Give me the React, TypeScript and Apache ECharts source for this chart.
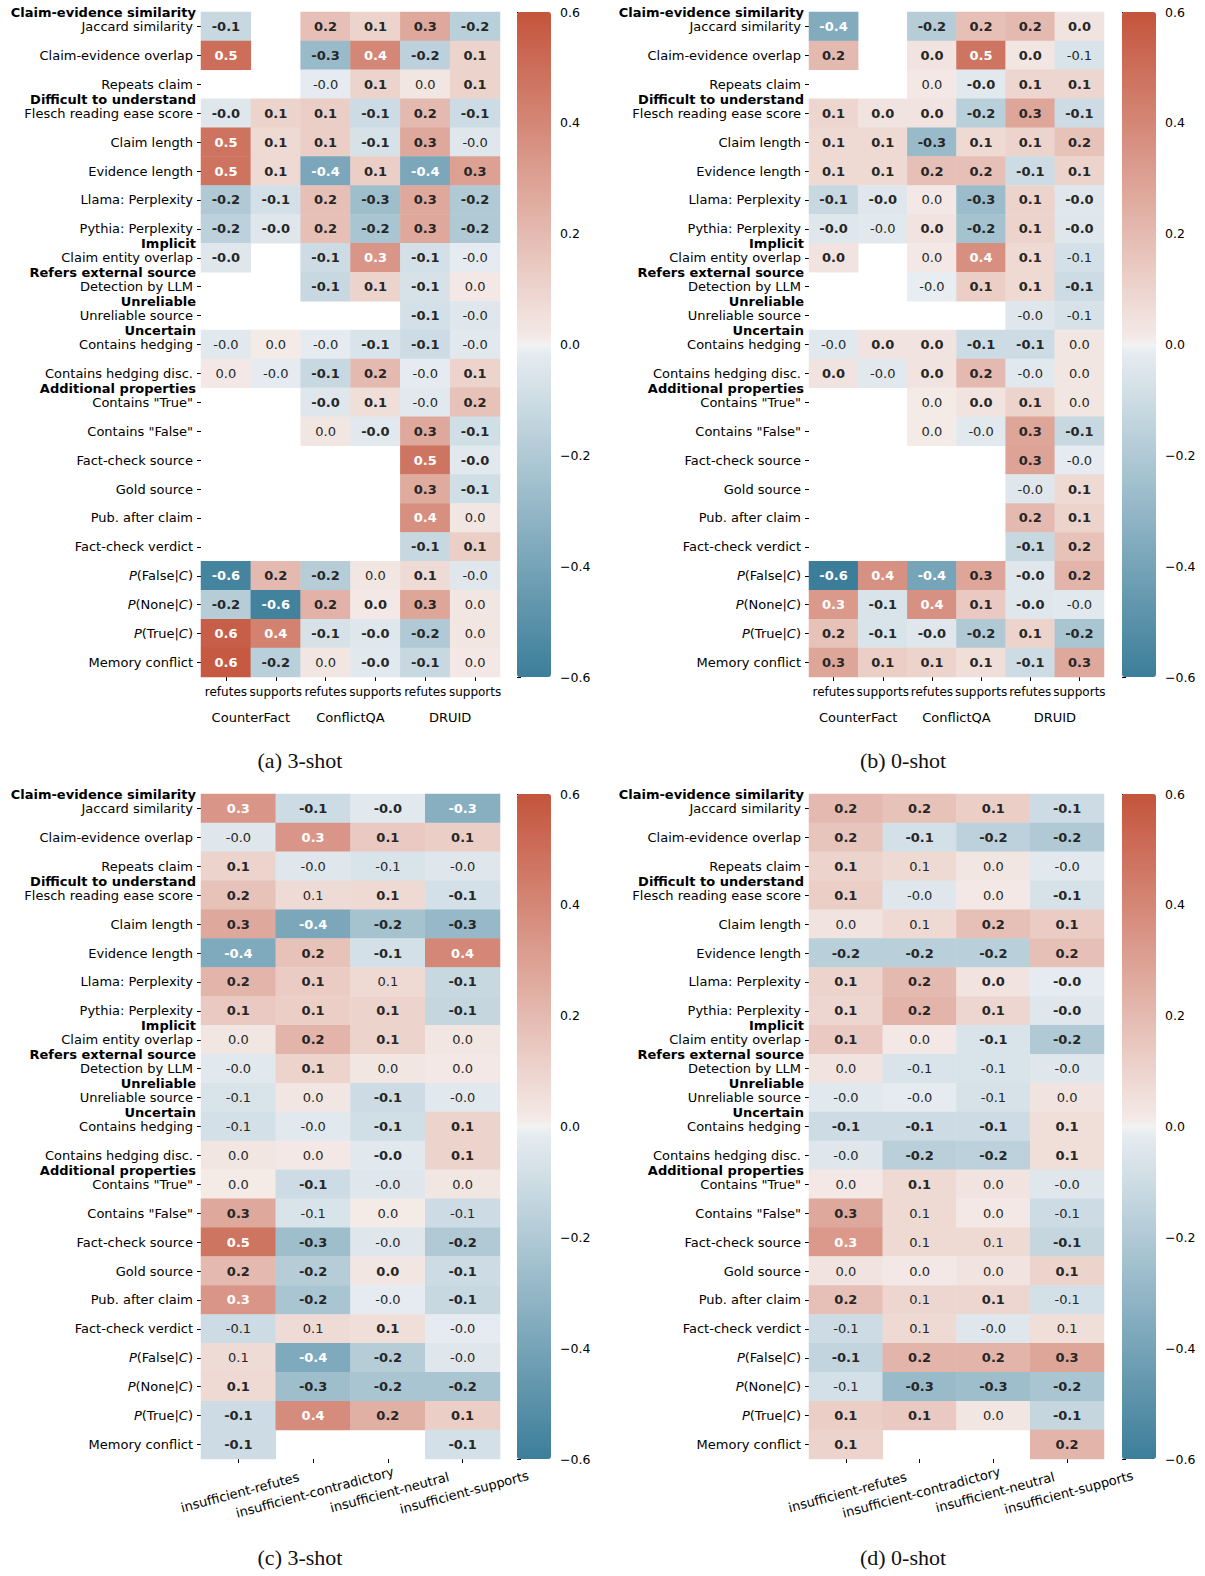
import React, { useEffect, useRef } from "react";
import * as echarts from "echarts";

// ---------------- data ----------------
const ROW_LABELS = [
  "Jaccard similarity", "Claim-evidence overlap", "Repeats claim", "Flesch reading ease score",
  "Claim length", "Evidence length", "Llama: Perplexity", "Pythia: Perplexity",
  "Claim entity overlap", "Detection by LLM", "Unreliable source", "Contains hedging",
  "Contains hedging disc.", 'Contains "True"', 'Contains "False"', "Fact-check source",
  "Gold source", "Pub. after claim", "Fact-check verdict", "P(False|C)", "P(None|C)",
  "P(True|C)", "Memory conflict",
];
const ROW_GROUPS = [
  "Claim-evidence similarity", "", "", "Difficult to understand", "", "", "", "",
  "Implicit", "Refers external source", "Unreliable", "Uncertain", "", "Additional properties",
  "", "", "", "", "", "", "", "", "",
];
const COLS_TOP = ["refutes", "supports", "refutes", "supports", "refutes", "supports"];
const DATASETS = ["CounterFact", "ConflictQA", "DRUID"];
const COLS_BOTTOM = ["insufficient-refutes", "insufficient-contradictory", "insufficient-neutral", "insufficient-supports"];
const CBAR_MIN = -0.6;
const CBAR_MAX = 0.6;
const CBAR_STEP = 0.2;
const CAPTIONS = ["(a) 3-shot", "(b) 0-shot", "(c) 3-shot", "(d) 0-shot"];

const A_VALUES = [
  [-0.12, null, 0.18, 0.1, 0.27, -0.17],
  [0.5, null, -0.28, 0.4, -0.16, 0.1],
  [null, null, -0.02, 0.1, 0.03, 0.1],
  [-0.04, 0.1, 0.12, -0.1, 0.2, -0.1],
  [0.48, 0.08, 0.12, -0.07, 0.27, -0.04],
  [0.48, 0.08, -0.38, 0.12, -0.38, 0.3],
  [-0.2, -0.08, 0.18, -0.26, 0.27, -0.2],
  [-0.16, -0.04, 0.18, -0.22, 0.27, -0.2],
  [-0.04, null, -0.1, 0.34, -0.08, -0.02],
  [null, null, -0.12, 0.1, -0.07, 0.02],
  [null, null, null, null, -0.08, -0.04],
  [-0.03, 0.01, -0.02, -0.06, -0.1, -0.03],
  [0.02, -0.02, -0.12, 0.2, -0.02, 0.1],
  [null, null, -0.04, 0.06, -0.03, 0.17],
  [null, null, 0.03, -0.03, 0.27, -0.09],
  [null, null, null, null, 0.47, -0.03],
  [null, null, null, null, 0.26, -0.09],
  [null, null, null, null, 0.37, 0.03],
  [null, null, null, null, -0.12, 0.12],
  [-0.57, 0.2, -0.18, 0.03, 0.07, -0.04],
  [-0.18, -0.58, 0.23, 0.02, 0.28, 0.03],
  [0.56, 0.42, -0.07, -0.04, -0.2, 0.03],
  [0.58, -0.17, 0.03, -0.03, -0.12, 0.02],
];
const A_BOLD = [
  [1, 0, 1, 1, 1, 1], [1, 0, 1, 1, 1, 1], [0, 0, 0, 1, 0, 1], [1, 1, 1, 1, 1, 1],
  [1, 1, 1, 1, 1, 0], [1, 1, 1, 1, 1, 1], [1, 1, 1, 1, 1, 1], [1, 1, 1, 1, 1, 1],
  [1, 0, 1, 1, 1, 0], [0, 0, 1, 1, 1, 0], [0, 0, 0, 0, 1, 0], [0, 0, 0, 1, 1, 0],
  [0, 0, 1, 1, 0, 1], [0, 0, 1, 1, 0, 1], [0, 0, 0, 1, 1, 1], [0, 0, 0, 0, 1, 1],
  [0, 0, 0, 0, 1, 1], [0, 0, 0, 0, 1, 0], [0, 0, 0, 0, 1, 1], [1, 1, 1, 0, 1, 0],
  [1, 1, 1, 1, 1, 0], [1, 1, 1, 1, 1, 0], [1, 1, 0, 1, 1, 0],
];

const B_VALUES = [
  [-0.36, null, -0.18, 0.18, 0.2, 0.04],
  [0.2, null, 0.04, 0.47, 0.03, -0.06],
  [null, null, 0.02, -0.03, 0.09, 0.09],
  [0.09, 0.04, 0.04, -0.17, 0.28, -0.1],
  [0.08, 0.08, -0.28, 0.08, 0.1, 0.17],
  [0.08, 0.08, 0.18, 0.18, -0.1, 0.1],
  [-0.12, -0.04, 0.02, -0.27, 0.1, -0.04],
  [-0.04, -0.03, 0.04, -0.24, 0.1, -0.04],
  [0.04, null, 0.02, 0.37, 0.08, -0.08],
  [null, null, -0.01, 0.12, 0.08, -0.1],
  [null, null, null, null, -0.04, -0.07],
  [-0.03, 0.04, 0.04, -0.1, -0.1, 0.03],
  [0.04, -0.03, 0.04, 0.2, -0.03, 0.03],
  [null, null, 0.01, 0.04, 0.1, 0.03],
  [null, null, 0.01, -0.03, 0.28, -0.12],
  [null, null, null, null, 0.29, -0.02],
  [null, null, null, null, -0.04, 0.08],
  [null, null, null, null, 0.2, 0.1],
  [null, null, null, null, -0.12, 0.17],
  [-0.6, 0.36, -0.4, 0.28, -0.04, 0.22],
  [0.33, -0.06, 0.36, 0.14, -0.04, -0.03],
  [0.17, -0.06, -0.04, -0.2, 0.1, -0.22],
  [0.28, 0.12, 0.1, 0.06, -0.1, 0.27],
];
const B_BOLD = [
  [1, 0, 1, 1, 1, 1], [1, 0, 1, 1, 1, 0], [0, 0, 0, 1, 1, 1], [1, 1, 1, 1, 1, 1],
  [1, 1, 1, 1, 1, 1], [1, 1, 1, 1, 1, 1], [1, 1, 0, 1, 1, 1], [1, 0, 1, 1, 1, 1],
  [1, 0, 0, 1, 1, 0], [0, 0, 0, 1, 1, 1], [0, 0, 0, 0, 0, 0], [0, 1, 1, 1, 1, 0],
  [1, 0, 1, 1, 0, 0], [0, 0, 0, 1, 1, 0], [0, 0, 0, 0, 1, 1], [0, 0, 0, 0, 1, 0],
  [0, 0, 0, 0, 0, 1], [0, 0, 0, 0, 1, 1], [0, 0, 0, 0, 1, 1], [1, 1, 1, 1, 1, 1],
  [1, 1, 1, 1, 1, 0], [1, 1, 1, 1, 1, 1], [1, 1, 1, 1, 1, 1],
];

const C_VALUES = [
  [0.34, -0.1, -0.03, -0.34],
  [-0.04, 0.34, 0.14, 0.12],
  [0.1, -0.04, -0.06, -0.04],
  [0.17, 0.07, 0.08, -0.08],
  [0.27, -0.38, -0.24, -0.29],
  [-0.37, 0.17, -0.08, 0.4],
  [0.22, 0.13, 0.08, -0.12],
  [0.14, 0.12, 0.1, -0.13],
  [0.03, 0.22, 0.1, 0.03],
  [-0.03, 0.1, 0.03, 0.02],
  [-0.06, 0.03, -0.1, -0.03],
  [-0.08, -0.03, -0.09, 0.1],
  [0.03, 0.02, -0.03, 0.1],
  [0.01, -0.1, -0.04, 0.03],
  [0.27, -0.06, 0.01, -0.1],
  [0.47, -0.26, -0.04, -0.2],
  [0.2, -0.18, 0.03, -0.1],
  [0.34, -0.22, -0.02, -0.12],
  [-0.1, 0.07, 0.06, -0.02],
  [0.07, -0.37, -0.18, -0.04],
  [0.08, -0.26, -0.22, -0.22],
  [-0.1, 0.38, 0.24, 0.12],
  [-0.1, null, null, -0.08],
];
const C_BOLD = [
  [1, 1, 1, 1], [0, 1, 1, 1], [1, 0, 0, 0], [1, 0, 1, 1], [1, 1, 1, 1], [1, 1, 1, 1],
  [1, 1, 0, 1], [1, 1, 1, 1], [0, 1, 1, 0], [0, 1, 0, 0], [0, 0, 1, 0], [0, 0, 1, 1],
  [0, 0, 1, 1], [0, 1, 0, 0], [1, 0, 0, 0], [1, 1, 0, 1], [1, 1, 1, 1], [1, 1, 0, 1],
  [0, 0, 1, 0], [0, 1, 1, 0], [1, 1, 1, 1], [1, 1, 1, 1], [1, 0, 0, 1],
];

const D_VALUES = [
  [0.2, 0.17, 0.12, -0.1],
  [0.16, -0.08, -0.16, -0.2],
  [0.1, 0.08, 0.03, -0.03],
  [0.12, -0.04, 0.02, -0.07],
  [0.04, 0.08, 0.18, 0.13],
  [-0.17, -0.17, -0.17, 0.18],
  [0.1, 0.2, 0.04, -0.02],
  [0.09, 0.22, 0.09, -0.04],
  [0.14, 0.02, -0.06, -0.2],
  [0.04, -0.06, -0.06, -0.04],
  [-0.03, -0.02, -0.07, 0.04],
  [-0.1, -0.1, -0.1, 0.06],
  [-0.04, -0.17, -0.16, 0.06],
  [0.02, 0.08, 0.04, -0.04],
  [0.27, 0.08, 0.02, -0.1],
  [0.33, 0.08, 0.08, -0.13],
  [0.04, 0.02, 0.04, 0.1],
  [0.18, 0.09, 0.09, -0.08],
  [-0.1, 0.08, -0.04, 0.06],
  [-0.14, 0.22, 0.22, 0.28],
  [-0.08, -0.28, -0.26, -0.22],
  [0.12, 0.14, 0.03, -0.13],
  [0.1, null, null, 0.22],
];
const D_BOLD = [
  [1, 1, 1, 1], [1, 1, 1, 1], [1, 0, 0, 0], [1, 0, 0, 1], [0, 0, 1, 1], [1, 1, 1, 1],
  [1, 1, 1, 1], [1, 1, 1, 1], [1, 0, 1, 1], [0, 0, 0, 0], [0, 0, 0, 0], [1, 1, 1, 1],
  [0, 1, 1, 1], [0, 1, 0, 0], [1, 0, 0, 0], [1, 0, 0, 1], [0, 0, 0, 1], [1, 0, 1, 0],
  [0, 0, 0, 0], [1, 1, 1, 1], [0, 1, 1, 1], [1, 1, 0, 1], [1, 0, 0, 1],
];

// ---------------- style ----------------
const FONT = "DejaVu Sans";
const STOPS: [number, number[]][] = [
  [-0.6, [60, 126, 154]],
  [-0.0047, [233, 238, 242]],
  [0, [242, 242, 242]],
  [0.0047, [244, 236, 233]],
  [0.6, [196, 84, 60]],
];
function cmap(v: number): number[] {
  const x = Math.max(CBAR_MIN, Math.min(CBAR_MAX, v));
  for (let i = 0; i < STOPS.length - 1; i++) {
    const [a, ca] = STOPS[i];
    const [b, cb] = STOPS[i + 1];
    if (x <= b) {
      const t = (x - a) / (b - a);
      return ca.map((c, k) => c + (cb[k] - c) * t);
    }
  }
  return STOPS[STOPS.length - 1][1];
}
function toHex(c: number[]) {
  return "#" + c.map((x) => Math.round(x).toString(16).padStart(2, "0")).join("");
}
function luminance(c: number[]) {
  const lin = c.map((x) => {
    const s = x / 255;
    return s <= 0.03928 ? s / 12.92 : Math.pow((s + 0.055) / 1.055, 2.4);
  });
  return 0.2126 * lin[0] + 0.7152 * lin[1] + 0.0722 * lin[2];
}
const VM_COLORS = Array.from({ length: 241 }, (_, i) => toHex(cmap(CBAR_MIN + ((CBAR_MAX - CBAR_MIN) * i) / 240)));

const PANELS = [
  { values: A_VALUES, bold: A_BOLD, cols: COLS_TOP, left: 201, top: 12, width: 299, cbLeft: 517, capX: 300, capY: 749, group: true },
  { values: B_VALUES, bold: B_BOLD, cols: COLS_TOP, left: 809, top: 12, width: 295, cbLeft: 1122, capX: 903, capY: 749, group: true },
  { values: C_VALUES, bold: C_BOLD, cols: COLS_BOTTOM, left: 201, top: 794, width: 299, cbLeft: 517, capX: 300, capY: 1546, group: false },
  { values: D_VALUES, bold: D_BOLD, cols: COLS_BOTTOM, left: 809, top: 794, width: 295, cbLeft: 1122, capX: 903, capY: 1546, group: false },
];
const HEAT_H = 665;
const CB_W = 34;

function rowLabel(value: string, index: number) {
  const m = /^P\((\w+)\|C\)$/.exec(value);
  const line = m ? `{i|P}{n|(${m[1]}|}{i|C}{nr|)}` : `{nr|${value}}`;
  const g = ROW_GROUPS[index];
  return g ? `{h|${g}}\n${line}\n{h| }` : line;
}

function fmtTick(v: number) {
  if (Math.abs(v) < 1e-9) return "0.0";
  return v < 0 ? "\u2212" + Math.abs(v).toFixed(1) : v.toFixed(1);
}

function buildOption() {
  const grid: any[] = [];
  const xAxis: any[] = [];
  const yAxis: any[] = [];
  const series: any[] = [];
  const visualMap: any[] = [];
  const title: any[] = [];

  PANELS.forEach((p, pi) => {
    const gHeat = grid.length;
    grid.push({ left: p.left, top: p.top, width: p.width, height: HEAT_H, containLabel: false });
    const gCb = grid.length;
    grid.push({ left: p.cbLeft, top: p.top, width: CB_W, height: HEAT_H, containLabel: false });

    const rotated = !p.group;
    const xi = xAxis.length;
    xAxis.push({
      type: "category",
      gridIndex: gHeat,
      data: p.cols,
      position: "bottom",
      axisLine: { show: false },
      axisTick: { show: true, alignWithLabel: true, length: 4, lineStyle: { color: "#000", width: 1 } },
      axisLabel: rotated
        ? { interval: 0, margin: 27, rotate: 15, align: "center", verticalAlign: "top", fontFamily: FONT, fontSize: 13, color: "#000" }
        : { interval: 0, margin: 9, fontFamily: FONT, fontSize: 12, color: "#000" },
      splitLine: { show: false },
    });
    if (p.group) {
      xAxis.push({
        type: "category",
        gridIndex: gHeat,
        data: DATASETS,
        position: "bottom",
        offset: 25,
        axisLine: { show: false },
        axisTick: { show: false },
        axisLabel: { interval: 0, margin: 9, fontFamily: FONT, fontSize: 13, color: "#000" },
        splitLine: { show: false },
      });
    }
    xAxis.push({ type: "value", gridIndex: gCb, show: false, min: 0, max: 1 });

    const yi = yAxis.length;
    yAxis.push({
      type: "category",
      gridIndex: gHeat,
      data: ROW_LABELS,
      inverse: true,
      axisLine: { show: false },
      axisTick: { show: true, alignWithLabel: true, length: 4, lineStyle: { color: "#000", width: 1 } },
      axisLabel: {
        interval: 0,
        margin: 5,
        color: "#000",
        fontFamily: FONT,
        fontSize: 13,
        formatter: rowLabel,
        rich: {
          h: { fontFamily: FONT, fontSize: 13, fontWeight: "bold", lineHeight: 14, color: "#000" },
          n: { fontFamily: FONT, fontSize: 13, lineHeight: 14, color: "#000" },
          nr: { fontFamily: FONT, fontSize: 13, lineHeight: 14, color: "#000", padding: [0, 3, 0, 0] },
          i: { fontFamily: FONT, fontSize: 13, lineHeight: 14, color: "#000", fontStyle: "italic" },
        },
      },
      splitLine: { show: false },
    });
    yAxis.push({
      type: "value",
      gridIndex: gCb,
      position: "right",
      min: CBAR_MIN,
      max: CBAR_MAX,
      interval: CBAR_STEP,
      axisLine: { show: false },
      axisTick: { show: true, length: 4, lineStyle: { color: "#000", width: 1 } },
      axisLabel: { margin: 9, fontFamily: FONT, fontSize: 12.5, color: "#000", formatter: fmtTick },
      splitLine: { show: false },
    });

    const data: any[] = [];
    p.values.forEach((row, r) =>
      row.forEach((v, c) => {
        if (v === null || v === undefined) return;
        const white = luminance(cmap(v)) < 0.408;
        data.push({
          value: [c, r, v],
          label: { color: white ? "#ffffff" : "#262626", fontWeight: p.bold[r][c] ? "bold" : "normal" },
        });
      })
    );
    series.push({
      type: "heatmap",
      xAxisIndex: xi,
      yAxisIndex: yi,
      data,
      label: {
        show: true,
        fontFamily: FONT,
        fontSize: 13,
        formatter: (q: any) => Number(q.value[2]).toFixed(1),
      },
      itemStyle: { borderWidth: 0 },
      emphasis: { disabled: true },
    });

    visualMap.push({
      type: "continuous",
      seriesIndex: pi,
      min: CBAR_MIN,
      max: CBAR_MAX,
      calculable: false,
      hoverLink: false,
      orient: "vertical",
      left: p.cbLeft,
      top: p.top,
      itemWidth: CB_W,
      itemHeight: HEAT_H,
      padding: 0,
      inRange: { color: VM_COLORS },
    });

    title.push({
      text: CAPTIONS[pi],
      left: p.capX,
      top: p.capY,
      textAlign: "center",
      padding: 0,
      textStyle: { fontFamily: "Liberation Serif", fontSize: 22, fontWeight: "normal", color: "#111" },
    });
  });

  return { animation: false, backgroundColor: "#fff", title, grid, xAxis, yAxis, series, visualMap };
}

export default function App() {
  const ref = useRef<HTMLDivElement>(null);
  useEffect(() => {
    const chart = echarts.init(ref.current!, null, { renderer: "svg" });
    chart.setOption(buildOption() as any);
    return () => chart.dispose();
  }, []);
  return (
    <div
      ref={ref}
      style={{ position: "absolute", left: 0, top: 0, width: 1205, height: 1576, background: "#fff" }}
    />
  );
}
